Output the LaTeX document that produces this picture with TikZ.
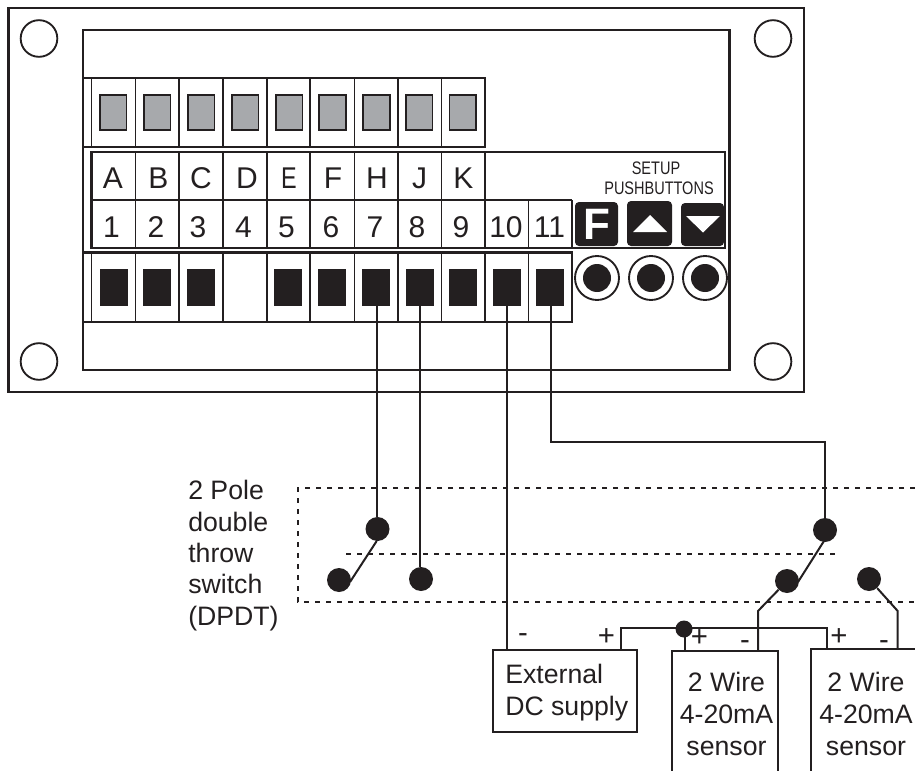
\documentclass[tikz,border=0pt]{standalone}
\usepackage{fontspec}
\setmainfont{Liberation Sans}
\definecolor{ink}{HTML}{231F20}
\definecolor{lamp}{HTML}{A7A9AC}
\tikzset{
  panel/.style={draw=ink,line width=1.7pt,line join=miter},
  cell/.style={draw=ink,line width=1.25pt},
  wire/.style={draw=ink,line width=1.9pt},
  arm/.style={draw=ink,line width=1.5pt},
  thinwire/.style={draw=ink,line width=1.5pt},
  dashline/.style={draw=ink,line width=1.5pt,dash pattern=on 3.75pt off 4.5pt},
  hole/.style={circle,draw=ink,line width=1.4pt,minimum size=27.5pt,inner sep=0pt},
  lampbox/.style={draw=ink,fill=lamp,line width=1.25pt,minimum width=20pt,minimum height=26pt,inner sep=0pt},
  termbox/.style={fill=ink,minimum width=21pt,minimum height=28pt,inner sep=0pt},
  contact/.style={circle,fill=ink,minimum size=18pt,inner sep=0pt},
  keybox/.style={fill=ink,rounded corners=3pt,inner sep=0pt},
  ringbtn/.style={circle,draw=ink,line width=1.4pt,minimum size=33pt,inner sep=0pt},
  dotbtn/.style={circle,fill=ink,minimum size=21pt,inner sep=0pt},
  big/.style={text=ink,inner sep=0pt,anchor=base,font=\fontsize{22.5pt}{24pt}\selectfont},
  lab/.style={text=ink,inner sep=0pt,anchor=base,font=\fontsize{20pt}{23pt}\selectfont},
  sign/.style={text=ink,inner sep=0pt,anchor=base,font=\fontsize{22pt}{24pt}\selectfont},
  small/.style={text=ink,inner sep=0pt,anchor=base,font=\fontsize{13.6pt}{15pt}\selectfont},
}
\begin{document}
\begin{tikzpicture}[x=0.75pt,y=-0.75pt]
\useasboundingbox (0,0) rectangle (915,771);
% housing
\draw[panel] (8.5,8) rectangle (804,392);
\draw[panel] (83,30) rectangle (729.5,370);
\node[hole] (h1) at (39,38.5) {};
\node[hole] (h2) at (39,361.5) {};
\node[hole] (h3) at (773,38.5) {};
\node[hole] (h4) at (773,361.5) {};
% top row
\draw[panel] (83,78) -- (485,78) -- (485,147) -- (83,147);
\foreach \x in {91.5,135.5,179,223,267,310,354.5,398,441.5}
  \draw[cell] (\x,78) -- (\x,147);
\foreach \x [count=\i] in {113,157,201.2,245.2,289,332.5,376.5,419.2,462.7}
  \node[lampbox] (lamp\i) at (\x,112.5) {};
% middle table
\draw[panel] (91.5,152) rectangle (725,248);
\draw[cell] (91.5,200) -- (572,200);
\foreach \x in {135.5,179,223,267,310,354.5,398,441.5,485}
  \draw[cell] (\x,152) -- (\x,248);
\foreach \x/\t in {113/A,158.5/B,201/C,247/D,333/F,377/H,419.5/J,463.5/K}
  \node[big] (let\t) at (\x,188) {\t};
\node[big] (letE) at (289,188) {\scalebox{0.78}[1]{E}};
\foreach \x/\t in {111.5/1,156/2,198/3,243.5/4,286.5/5,331/6,375/7,417/8,461/9,506/10,549.5/11}
  \node[big] (num\t) at (\x,237) {\t};
\foreach \x in {528.5,572}
  \draw[cell] (\x,200) -- (\x,248);
\node[small] (setup) at (656,174) {\scalebox{0.8}[1]{SETUP}};
\node[small] (push) at (659,194) {\scalebox{0.8}[1]{PUSHBUTTONS}};
% push buttons
\node[keybox,minimum width=32.25pt,minimum height=33pt] (kf) at (596.5,224) {};
\node[keybox,minimum width=33.75pt,minimum height=33.75pt] (ku) at (649.5,223.5) {};
\node[keybox,minimum width=32.25pt,minimum height=32.25pt] (kd) at (702.5,224.5) {};
\node[text=white,inner sep=0pt,font=\fontsize{33pt}{33pt}\selectfont\bfseries] (kft) at (597,224.5) {F};
\fill[white] (650,215) -- (667,232) -- (633,232) -- cycle;
\fill[white] (686,216) -- (720,216) -- (703,232.5) -- cycle;
\foreach \x [count=\i] in {597,651,705}{
  \node[ringbtn] (ring\i) at (\x,278) {};
  \node[dotbtn] (dot\i) at (\x,278) {};
}
% terminal row
\draw[panel] (83,322) -- (572,322) -- (572,252.5) -- (83,252.5);
\foreach \x in {91.5,135.5,179,223,267,310,354.5,398,441.5,485,528.5}
  \draw[cell] (\x,252.5) -- (\x,322);
\foreach \x/\t in {114/1,157/2,201/3,288/5,332/6,375.5/7,419.5/8,463/9,506.5/10,550/11}
  \node[termbox] (t\t) at (\x,287.5) {};
% switch frame
\draw[dashline] (915,488) -- (298,488) -- (298,602) -- (915,602);
\draw[dashline] (346,554) -- (835,554);
% contacts
\node[contact] (p1) at (377.5,529) {};
\node[contact] (a1) at (339,580) {};
\node[contact] (b1) at (421,579) {};
\node[contact] (p2) at (825,530) {};
\node[contact] (a2) at (787,581) {};
\node[contact] (b2) at (869,579) {};
% devices
\node[draw=ink,line width=1.6pt,minimum width=108pt,minimum height=61pt,inner sep=0pt] (dc) at (564.7,691) {};
\coordinate (s1tl) at (672,651);
\coordinate (s1tr) at (778,651);
\coordinate (s1bl) at (672,771);
\coordinate (s1br) at (778,771);
\coordinate (s2tl) at (811,649);
\coordinate (s2tr) at (915,649);
\coordinate (s2bl) at (811,771);
\draw[panel] (s1bl) -- (s1tl) -- (s1tr) -- (s1br);
\draw[panel] (s2bl) -- (s2tl) -- (s2tr);
% wires
\coordinate (x7) at (377,500);
\coordinate (x8) at (420,500);
\draw[wire] (t7.south -| x7) -- (p1.north -| x7);
\draw[wire] (t8.south -| x8) -- (b1.north -| x8);
\coordinate (j11) at (551,442);
\draw[wire] (t11.south -| j11) -- (j11) -| (p2);
\coordinate (dcm) at (507,650);
\draw[wire] (t10.south -| dcm) -- (dcm);
\coordinate (arm1a) at (376.7,541);
\coordinate (arm1b) at (350,582);
\coordinate (arm2a) at (824,541);
\coordinate (arm2b) at (798,582);
\draw[arm] (arm1a) -- (arm1b);
\draw[arm] (arm2a) -- (arm2b);
\coordinate (k1) at (758,611);
\coordinate (e1) at (758,651);
\coordinate (k2) at (897.7,611);
\coordinate (e2) at (897.7,649);
\draw[arm,line join=round] (a2) -- (k1) -- (e1);
\draw[arm,line join=round] (b2) -- (k2) -- (e2);
\coordinate (pl) at (620.7,650);
\coordinate (pr) at (826.7,649);
\node[contact,minimum size=12.75pt] (j) at (684,629) {};
\coordinate (jb) at (685,651);
\draw[thinwire] (pl) |- (j.center |- 0,628) -| (pr);
\draw[thinwire] (j.center -| jb) -- (jb);
% text
\foreach \t/\y [count=\i] in {2 Pole/499.5,double/531.5,throw/562,switch/593}
  \node[lab,anchor=base west] (sw\i) at (188,\y) {\t};
\node[lab,anchor=base west] (sw5) at (188,625) {(DPDT)};
\node[lab,anchor=base west] (dc1) at (505,683.5) {External};
\node[lab,anchor=base west] (dc2) at (505,715.5) {DC supply};
\foreach \x/\i in {726.5/a,866/b}{
  \node[lab] (w\i) at (\x,691.5) {2 Wire};
  \node[lab] (m\i) at (\x,723) {4-20mA};
  \node[lab] (s\i) at (\x,755) {sensor};
}
\node[sign] (sg1) at (523,642) {-};
\node[sign] (sg2) at (606.5,645) {+};
\node[sign] (sg3) at (699.5,646) {+};
\node[sign] (sg4) at (745,649) {-};
\node[sign] (sg5) at (839,645) {+};
\node[sign] (sg6) at (884,649) {-};
\end{tikzpicture}
\end{document}
